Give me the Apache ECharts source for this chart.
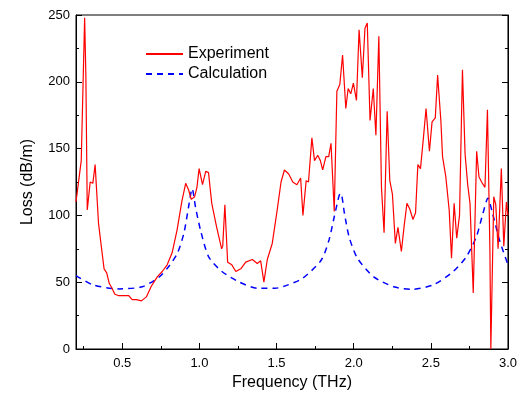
<!DOCTYPE html>
<html>
<head>
<meta charset="utf-8">
<script src="https://cdn.jsdelivr.net/npm/echarts@6/dist/echarts.min.js"></script>
<style>
  html, body { margin: 0; padding: 0; background: #fff; }
  #chart { width: 520px; height: 402px; }
</style>
</head>
<body>
<div id="chart"></div>
<script>
// measured loss (red)
const expFreq = [0.200, 0.234, 0.256, 0.264, 0.273, 0.292, 0.309, 0.324, 0.346, 0.367,
  0.382, 0.399, 0.416, 0.431, 0.452, 0.474, 0.495, 0.516, 0.542, 0.564,
  0.592, 0.624, 0.656, 0.688, 0.727, 0.759, 0.791, 0.823, 0.855, 0.887,
  0.911, 0.930, 0.947, 0.969, 0.984, 0.998, 1.020, 1.041, 1.059, 1.080,
  1.112, 1.144, 1.151, 1.165, 1.183, 1.210, 1.236, 1.268, 1.300, 1.343,
  1.375, 1.397, 1.418, 1.440, 1.472, 1.504, 1.529, 1.551, 1.579, 1.605,
  1.632, 1.656, 1.671, 1.692, 1.707, 1.729, 1.746, 1.767, 1.784, 1.799,
  1.820, 1.838, 1.853, 1.874, 1.891, 1.910, 1.928, 1.949, 1.964, 1.981,
  1.998, 2.018, 2.035, 2.056, 2.073, 2.088, 2.106, 2.127, 2.144, 2.163,
  2.180, 2.197, 2.217, 2.234, 2.251, 2.270, 2.287, 2.309, 2.326, 2.345,
  2.363, 2.384, 2.401, 2.416, 2.433, 2.452, 2.469, 2.491, 2.508, 2.529,
  2.544, 2.565, 2.576, 2.597, 2.619, 2.634, 2.651, 2.668, 2.686, 2.705,
  2.722, 2.739, 2.754, 2.775, 2.797, 2.812, 2.829, 2.851, 2.867, 2.883,
  2.889, 2.908, 2.921, 2.936, 2.957, 2.973, 2.990, 3.000];
const expLoss = [110, 141, 248, 204, 104, 125, 124, 138, 94, 74,
  60, 57, 49, 46, 41, 40, 40, 40, 40, 37,
  37, 36, 39, 47, 54, 58, 63, 72, 89, 111,
  124, 119, 112, 114, 121, 135, 123, 133, 132, 109,
  91, 75, 77, 108, 65, 63, 58, 60, 65, 67,
  64, 66, 50, 67, 79, 104, 125, 134, 131, 125,
  123, 128, 100, 126, 125, 158, 141, 145, 141, 134,
  144, 144, 154, 103, 193, 198, 220, 180, 195, 191,
  199, 186, 239, 203, 240, 244, 171, 195, 160, 234,
  121, 87, 178, 126, 116, 79, 91, 73, 91, 109,
  105, 97, 102, 138, 135, 158, 180, 148, 170, 173,
  205, 171, 144, 129, 104, 68, 109, 83, 100, 209,
  146, 123, 109, 42, 148, 129, 125, 121, 179, 74,
  0, 114, 108, 75, 135, 77, 110, 100];

// calculated loss (blue dashed)
const calcFreq = [0.200, 0.310, 0.480, 0.630, 0.740, 0.800, 0.857, 0.900, 0.930, 0.953,
  0.975, 1.007, 1.060, 1.146, 1.253, 1.380, 1.490, 1.574, 1.670, 1.790,
  1.840, 1.874, 1.906, 1.917, 1.940, 1.970, 2.024, 2.130, 2.260, 2.377,
  2.516, 2.645, 2.730, 2.795, 2.838, 2.870, 2.900, 2.945, 3.000];
const calcLoss = [55, 48, 45, 46.6, 54, 61.6, 71.6, 87, 106.5, 120,
  106, 89, 69, 58, 50.4, 45.4, 45.4, 48, 53, 66.6,
  81.6, 99, 115, 116.5, 101.6, 84, 68, 54, 46.6, 44.7,
  48, 58, 69, 84, 101.6, 112.8, 101.6, 81.6, 63];

const xMajor = [0.5, 1.0, 1.5, 2.0, 2.5, 3.0];
const xMinor = [0.25, 0.75, 1.25, 1.75, 2.25, 2.75];

const FONT = 'Liberation Sans';
const chart = echarts.init(document.getElementById('chart'));

const yBase = {
  type: 'value',
  min: 0,
  max: 250,
  interval: 50,
  axisLine: { show: true, lineStyle: { color: '#000', width: 1 } },
  axisTick: { show: true, inside: true, length: 6, lineStyle: { color: '#000' } },
  minorTick: { show: true, splitNumber: 2, length: 3, lineStyle: { color: '#000' } },
  splitLine: { show: false },
};

chart.setOption({
  animation: false,
  backgroundColor: '#fff',
  grid: {
    left: 76, right: 8, top: 15, bottom: 53,
    show: true, borderColor: '#000', borderWidth: 1,
  },
  legend: {
    orient: 'vertical',
    left: 140,
    top: 41,
    itemWidth: 37,
    itemHeight: 14,
    itemGap: 4,
    itemStyle: { opacity: 0 },
    textStyle: { fontFamily: FONT, fontSize: 16, color: '#000' },
    data: ['Experiment', 'Calculation'],
  },
  xAxis: [
    {
      type: 'value',
      min: 0.2,
      max: 3.0,
      position: 'bottom',
      name: 'Frequency (THz)',
      nameLocation: 'middle',
      nameGap: 24,
      nameTextStyle: { fontFamily: FONT, fontSize: 16, color: '#000' },
      axisLine: { show: true, lineStyle: { color: '#000', width: 1 } },
      axisTick: { show: true, inside: true, length: 6, customValues: xMajor, lineStyle: { color: '#000' } },
      axisLabel: {
        customValues: xMajor,
        margin: 8,
        fontFamily: FONT, fontSize: 13, color: '#000',
        formatter: (v) => v.toFixed(1),
      },
      splitLine: { show: false },
    },
    {
      type: 'value',
      min: 0.2,
      max: 3.0,
      position: 'bottom',
      axisLine: { show: false },
      axisTick: { show: true, inside: true, length: 3, customValues: xMinor, lineStyle: { color: '#000' } },
      axisLabel: { show: false },
      splitLine: { show: false },
    },
  ],
  yAxis: [
    Object.assign({}, yBase, {
      position: 'left',
      name: 'Loss (dB/m)',
      nameLocation: 'middle',
      nameGap: 40,
      nameTextStyle: { fontFamily: FONT, fontSize: 16, color: '#000' },
      axisLabel: { margin: 6, fontFamily: FONT, fontSize: 13, color: '#000' },
    }),
    Object.assign({}, yBase, {
      position: 'right',
      axisLabel: { show: false },
    }),
  ],
  series: [
    {
      name: 'Experiment',
      type: 'line',
      symbol: 'none',
      data: expFreq.map((f, i) => [f, expLoss[i]]),
      lineStyle: { color: '#ff0000', width: 1.2 },
      itemStyle: { color: '#ff0000' },
      z: 3,
    },
    {
      name: 'Calculation',
      type: 'line',
      symbol: 'none',
      smooth: 0.25,
      data: calcFreq.map((f, i) => [f, calcLoss[i]]),
      lineStyle: { color: '#0000ff', width: 1.5, type: [6, 5] },
      itemStyle: { color: '#0000ff' },
      z: 2,
    },
  ],
});
</script>
</body>
</html>
